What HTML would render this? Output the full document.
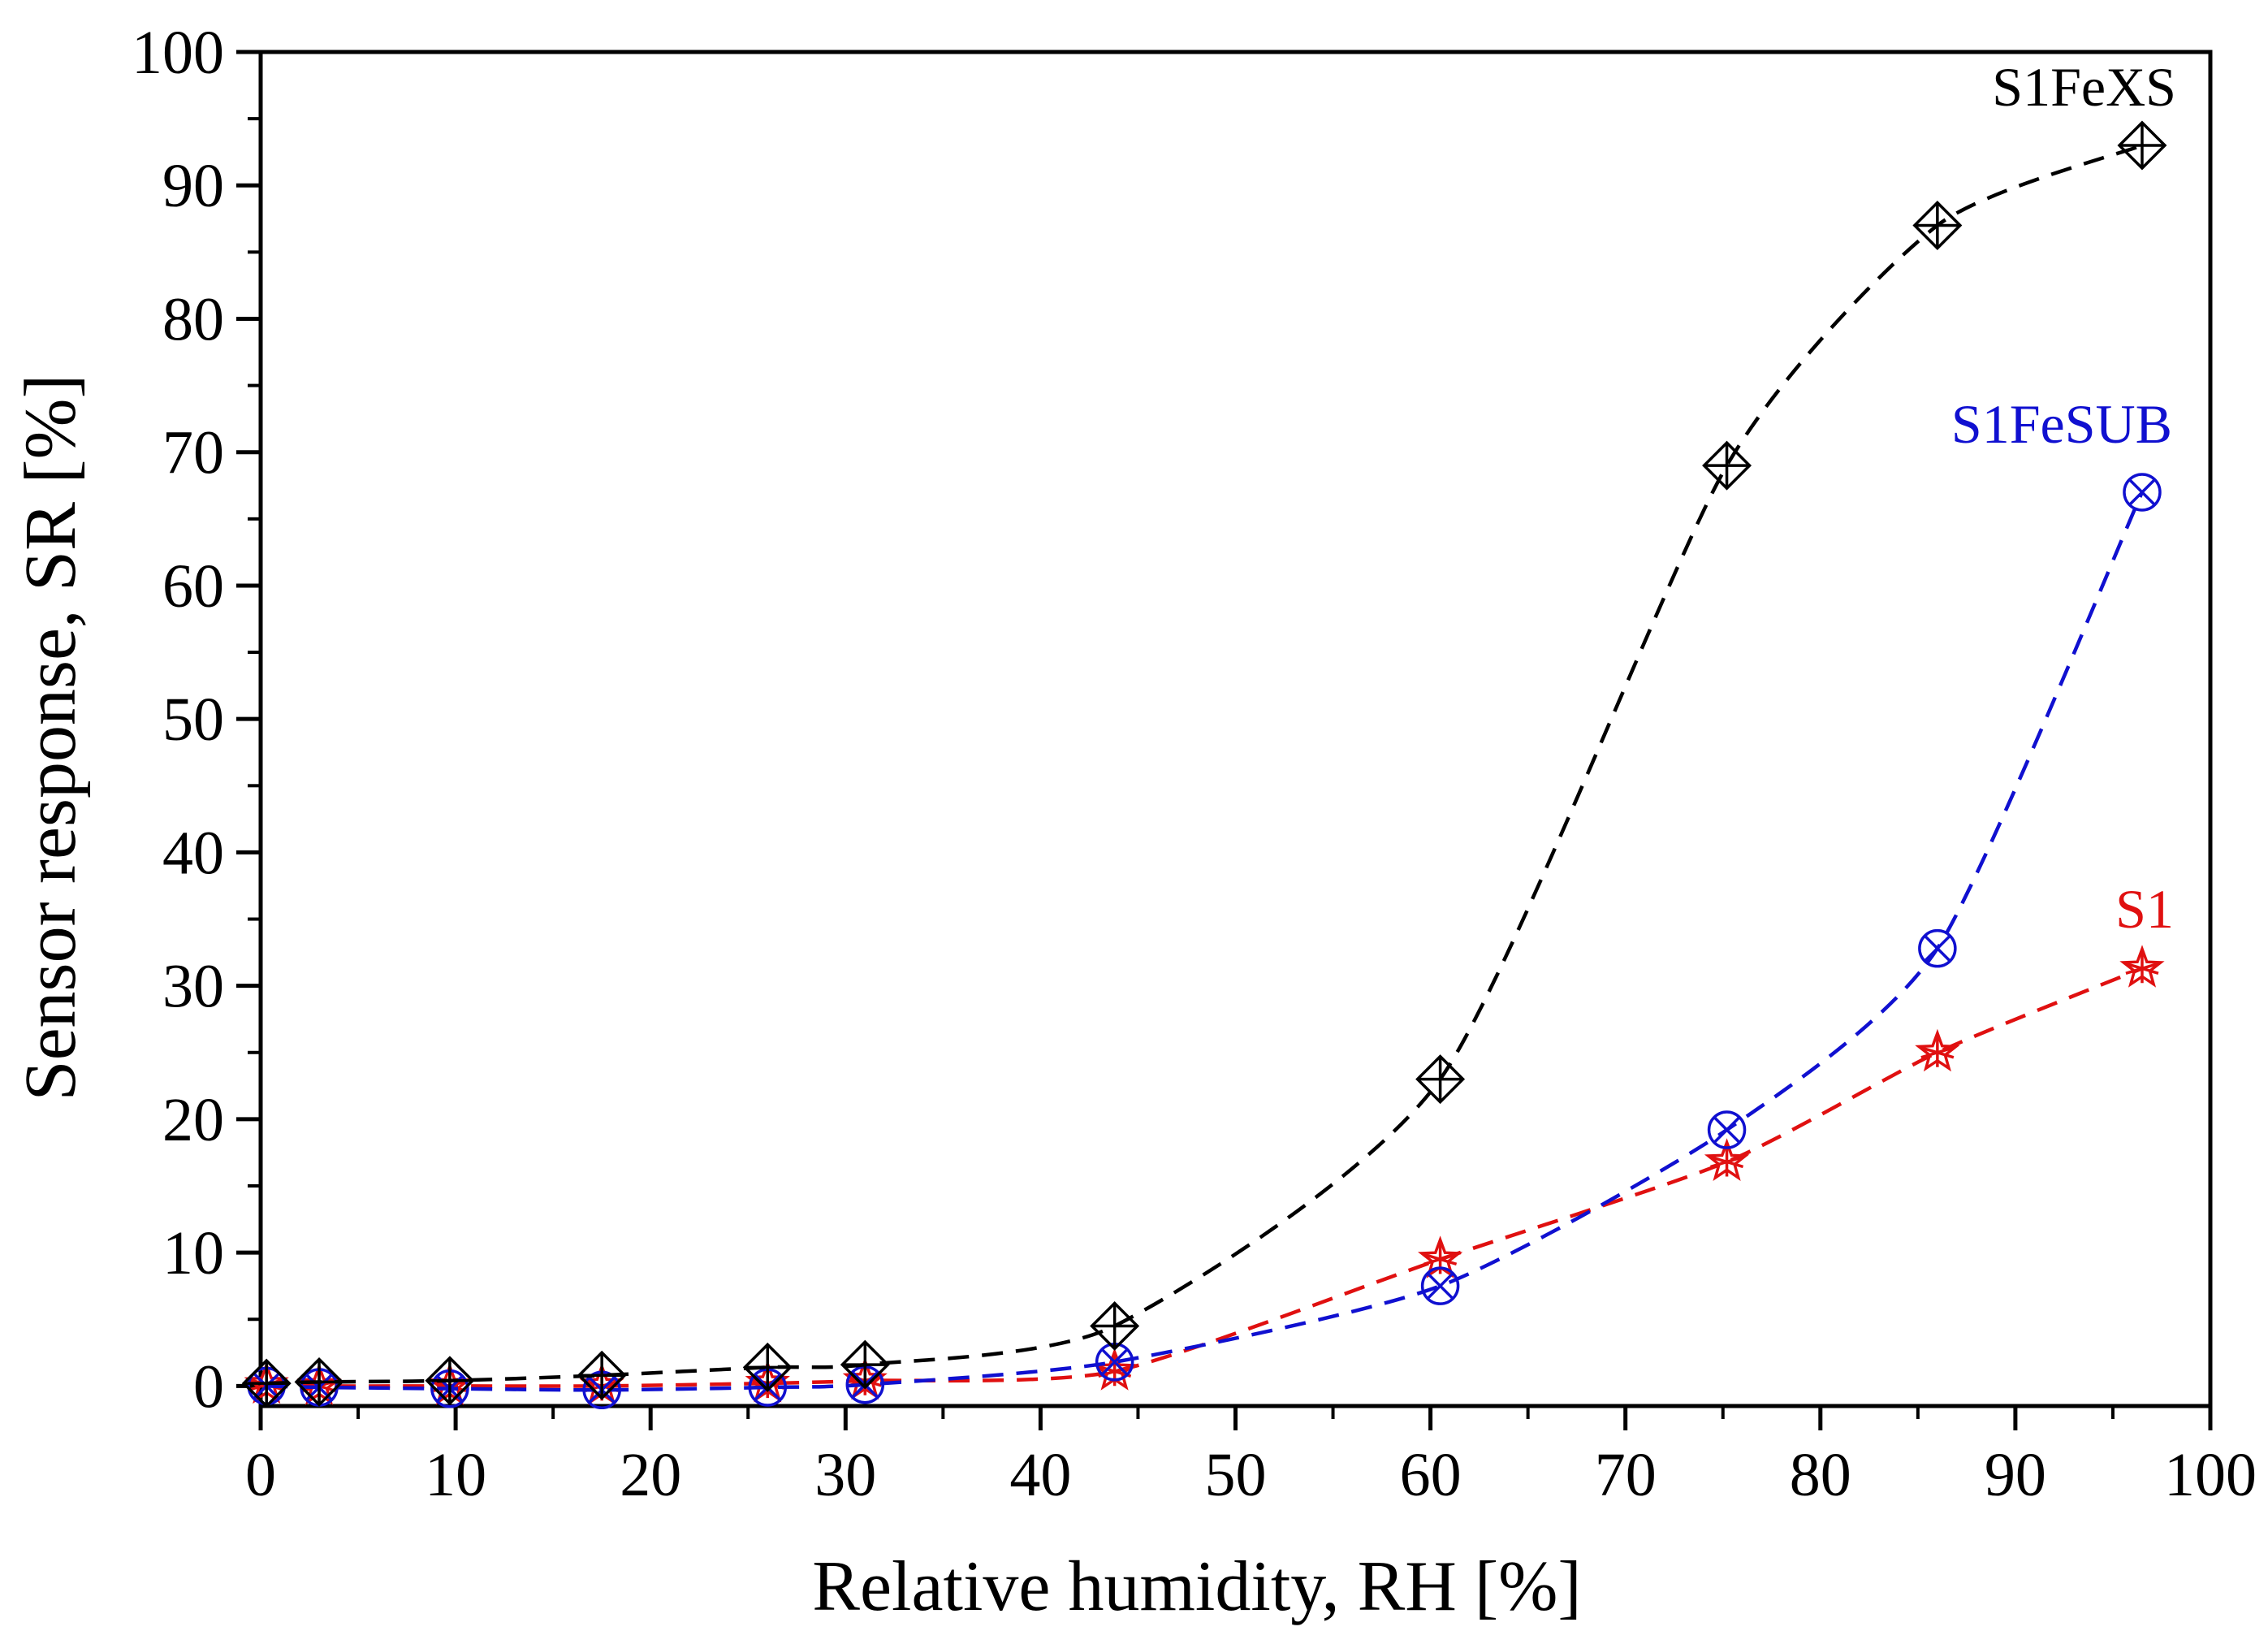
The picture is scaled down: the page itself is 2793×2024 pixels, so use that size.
<!DOCTYPE html>
<html><head><meta charset="utf-8"><style>
html,body{margin:0;padding:0;background:#fff;}
svg{display:block;font-family:"Liberation Serif",serif;}
</style></head><body>
<svg id="chart" width="2793" height="2024" viewBox="0 0 2793 2024" xmlns="http://www.w3.org/2000/svg">
<g id="axes"></g>
<g id="series"></g>
<text x="1474" y="1982" font-size="88" text-anchor="middle">Relative humidity, RH [%]</text>
<text x="0" y="0" font-size="90" text-anchor="middle" transform="translate(92,908) rotate(-90)">Sensor response, SR [%]</text>
<text x="2680" y="130" font-size="68" text-anchor="end" fill="#000">S1FeXS</text>
<text x="2675" y="545" font-size="68" text-anchor="end" fill="#1010d0">S1FeSUB</text>
<text x="2677" y="1142" font-size="68" text-anchor="end" fill="#e01010">S1</text>
</svg>
<script>
const xValues = [0.3, 3, 9.7, 17.5, 26, 31, 43.8, 60.5, 75.2, 86, 96.5];
const s1fexsValues = [0.2, 0.3, 0.4, 0.8, 1.4, 1.6, 4.5, 23, 69, 87, 93];
const s1fesubValues = [0, -0.1, -0.2, -0.3, -0.1, 0.1, 1.8, 7.5, 19.2, 32.8, 67];
const s1Values = [0.1, 0, 0, 0, 0.2, 0.4, 1.1, 9.5, 16.8, 25, 31.3];
const xTicks = [0, 10, 20, 30, 40, 50, 60, 70, 80, 90, 100];
const yTicks = [0, 10, 20, 30, 40, 50, 60, 70, 80, 90, 100];

const NS = "http://www.w3.org/2000/svg";
const L = 321, R = 2722, T = 64, B = 1731;
const yMin = -1.5, yMax = 100;
function sx(v){ return L + (v - 0) / 100 * (R - L); }
function sy(v){ return T + (yMax - v) / (yMax - yMin) * (B - T); }
function mk(tag, attrs, parent){ const e = document.createElementNS(NS, tag); for (const k in attrs) e.setAttribute(k, attrs[k]); parent.appendChild(e); return e; }

const axes = document.getElementById('axes');
const frame = mk('rect', {x:L, y:T, width:R-L, height:B-T, fill:'none', stroke:'#000', 'stroke-width':5}, axes);



xTicks.forEach(v => {
  const t = mk('line', {x1:sx(v), x2:sx(v), y1:B, y2:B+30, stroke:'#000', 'stroke-width':5}, axes);
  
  
  if (v < 100) {
    const m = mk('line', {x1:sx(v+5), x2:sx(v+5), y1:B, y2:B+16, stroke:'#000', 'stroke-width':4}, axes);
    
    
  }
  const lb = mk('text', {x:sx(v), y:B+110, 'font-size':76, 'text-anchor':'middle'}, axes);
  lb.textContent = v;
  
  
});
yTicks.forEach(v => {
  const t = mk('line', {x1:L-30, x2:L, y1:sy(v), y2:sy(v), stroke:'#000', 'stroke-width':5}, axes);
  
  
  if (v < 100) {
    const m = mk('line', {x1:L-16, x2:L, y1:sy(v+5), y2:sy(v+5), stroke:'#000', 'stroke-width':4}, axes);
    
    
  }
  const lb = mk('text', {x:L-45, y:sy(v)+26, 'font-size':76, 'text-anchor':'end'}, axes);
  lb.textContent = v;
  
  
});

function smoothPath(pts){
  let d = 'M' + pts[0][0] + ',' + pts[0][1];
  for (let i = 0; i < pts.length - 1; i++) {
    const p0 = pts[i-1] || pts[i], p1 = pts[i], p2 = pts[i+1], p3 = pts[i+2] || p2;
    const c1 = [p1[0] + (p2[0]-p0[0])/9, p1[1] + (p2[1]-p0[1])/9];
    const c2 = [p2[0] - (p3[0]-p1[0])/9, p2[1] - (p3[1]-p1[1])/9];
    d += ' C' + c1 + ' ' + c2 + ' ' + p2;
  }
  return d;
}
const seriesG = document.getElementById('series');
function drawSeries(vals, color, name, marker){
  const pts = xValues.map((x, i) => [sx(x), sy(vals[i])]);
  const p = mk('path', {d:smoothPath(pts), fill:'none', stroke:color, 'stroke-width':4.5, 'stroke-dasharray':'26,16'}, seriesG);
  
  
  pts.forEach(([x, y]) => {
    const g = mk('g', {stroke:color, 'stroke-width':3.5, fill:'none'}, seriesG);
    
    
    const r = 28;
    if (marker === 'diamond') {
      mk('polygon', {points:`${x},${y-r} ${x+r},${y} ${x},${y+r} ${x-r},${y}`}, g);
      mk('path', {d:`M${x},${y-r}V${y+r}M${x-r},${y}H${x+r}`}, g);
    } else if (marker === 'circlex') {
      mk('circle', {cx:x, cy:y, r:22}, g);
      mk('path', {d:`M${x-16},${y-16}L${x+16},${y+16}M${x+16},${y-16}L${x-16},${y+16}`}, g);
    } else {
      const s = [];
      for (let k = 0; k < 10; k++) { const a = -Math.PI/2 + k*Math.PI/5; const rr = k%2 ? 10 : 24; s.push((x+rr*Math.cos(a)).toFixed(1)+','+(y+rr*Math.sin(a)).toFixed(1)); }
      mk('polygon', {points:s.join(' ')}, g);
      mk('path', {d:`M${x},${y-20}V${y+18}M${x-20},${y-6}L${x+20},${y+6}M${x+20},${y-6}L${x-20},${y+6}`}, g);
    }
  });
}
drawSeries(s1Values, '#e01010', 's1', 'star');
drawSeries(s1fesubValues, '#1010d0', 's1fesub', 'circlex');
drawSeries(s1fexsValues, '#000000', 's1fexs', 'diamond');
</script>
</body></html>
